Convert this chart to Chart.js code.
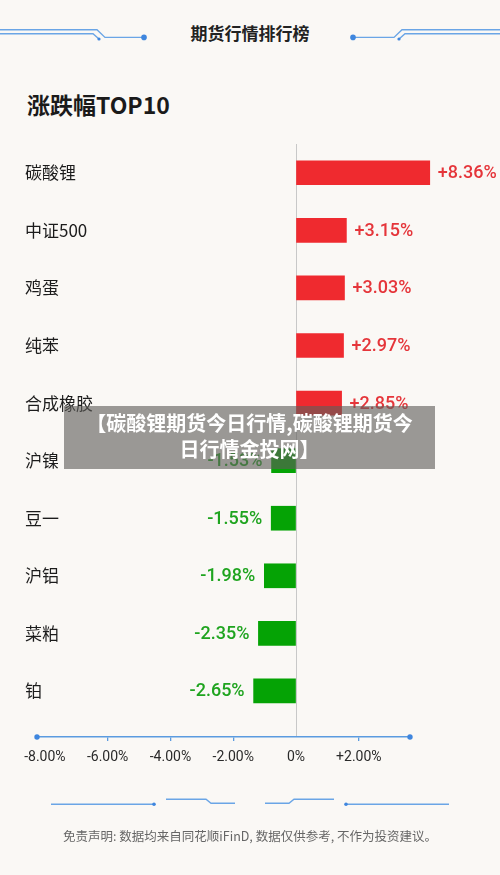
<!DOCTYPE html>
<html lang="zh-CN">
<head>
<meta charset="utf-8">
<title>期货行情排行榜</title>
<script src="https://cdn.jsdelivr.net/npm/chart.js@4.4.0/dist/chart.umd.min.js"></script>
<style>
  html, body { margin: 0; padding: 0; }
  body {
    width: 500px; height: 875px; position: relative; overflow: hidden;
    background: #faf8f5; font-family: "Noto Sans CJK SC", sans-serif;
  }
  svg.deco { position: absolute; left: 0; top: 0; }
  #box { position: absolute; left: 0; top: 0; width: 500px; height: 875px; }
  #title {
    position: absolute; top: 22px; left: 0; width: 500px; text-align: center;
    font-size: 17px; font-weight: bold; color: #222; line-height: 22px;
  }
  #sub {
    position: absolute; top: 90px; left: 27px; font-size: 23px; font-weight: bold;
    color: #1a1a1a; line-height: 28px;
  }
  #note {
    position: absolute; top: 826px; left: 0; width: 500px; text-align: center;
    font-size: 12.5px; color: #666; line-height: 20px;
  }
  #banner {
    position: absolute; left: 64px; top: 406px; width: 371px; height: 63px;
    background: rgba(95, 93, 90, 0.62); color: #fff; font-size: 20px; font-weight: bold;
    line-height: 26px; text-align: center; box-sizing: border-box; padding-top: 4px;
  }
</style>
</head>
<body>

<svg class="deco" width="500" height="875">
  <g fill="none" stroke="#6aa5e6" stroke-width="1.4">
    <!-- 顶部左 -->
    <polyline points="0,29.7 97,29.7 105,37.4 144,37.4"/>
    <polyline points="0,33.7 93,33.7 99,39"/>
    <!-- 顶部右 -->
    <polyline points="353,37.4 394,37.4 402,29.7 500,29.7"/>
    <polyline points="399,39 405,33.7 500,33.7"/>
    <!-- 底部 -->
    <polyline points="51,804.3 154,804.3"/>
    <polyline points="166,799.3 206,799.3 211,803.3 235,803.3"/>
    <polyline points="265,803.3 289,803.3 294,799.3 334,799.3"/>
    <polyline points="346,804.3 449,804.3"/>
  </g>
  <g fill="#3f86de">
    <circle cx="144" cy="37.4" r="2.8"/>
    <circle cx="353" cy="37.4" r="2.8"/>
    <circle cx="99" cy="39" r="1.6"/>
    <circle cx="399" cy="39" r="1.6"/>
    <circle cx="154" cy="804.3" r="1.8"/>
    <circle cx="346" cy="804.3" r="1.8"/>
  </g>
</svg>

<div id="title">期货行情排行榜</div>
<div id="sub">涨跌幅TOP10</div>

<div id="box"><canvas id="chart"></canvas></div>

<div id="banner">【碳酸锂期货今日行情,碳酸锂期货今<br>日行情金投网】</div>

<div id="note">免责声明: 数据均来自同花顺iFinD, 数据仅供参考, 不作为投资建议。</div>

<script>
// --- 数据 ---
const products = ["碳酸锂", "中证500", "鸡蛋", "纯苯", "合成橡胶", "沪镍", "豆一", "沪铝", "菜粕", "铂"];
const changes = [8.36, 3.15, 3.03, 2.97, 2.85, -1.53, -1.55, -1.98, -2.35, -2.65];
const axisTicks = [-8, -6, -4, -2, 0, 2];
const axisTickLabels = ["-8.00%", "-6.00%", "-4.00%", "-2.00%", "0%", "+2.00%"];

const RED = "#ef2a2f";
const GREEN = "#05a305";
const BLUE = "#5b9be0";

// 柱子右侧 / 左侧的数值
const valueLabels = {
  id: "valueLabels",
  afterDatasetsDraw(chart) {
    const ctx = chart.ctx;
    const meta = chart.getDatasetMeta(0);
    ctx.save();
    ctx.font = "500 18px Roboto";
    ctx.textBaseline = "middle";
    meta.data.forEach((bar, i) => {
      const v = changes[i];
      const up = v >= 0;
      ctx.fillStyle = up ? "#e5353a" : "#1fa41f";
      ctx.textAlign = up ? "left" : "right";
      const txt = (up ? "+" : "") + v.toFixed(2) + "%";
      ctx.fillText(txt, bar.x + (up ? 8 : -9), bar.y + 1);
    });
    ctx.restore();
  }
};

// 横轴两端的圆点
const axisDots = {
  id: "axisDots",
  afterDraw(chart) {
    const { ctx, chartArea } = chart;
    const y = chart.scales.x2.top;
    ctx.save();
    ctx.fillStyle = "#3f86de";
    [chartArea.left, chartArea.right].forEach(x => {
      ctx.beginPath();
      ctx.arc(x, y, 2.7, 0, Math.PI * 2);
      ctx.fill();
    });
    ctx.restore();
  }
};

Chart.defaults.font.family = "'Noto Sans CJK SC', sans-serif";

new Chart(document.querySelector("#chart"), {
  type: "bar",
  data: {
    datasets: [{
      data: changes.map((v, i) => ({ x: v, y: i })),
      backgroundColor: changes.map(v => (v >= 0 ? RED : GREEN)),
      borderWidth: 0,
      barThickness: 24,
      clip: false,
      xAxisID: "x",
      yAxisID: "y",
    }],
  },
  options: {
    indexAxis: "y",
    responsive: true,
    maintainAspectRatio: false,
    animation: false,
    devicePixelRatio: 1,
    layout: { padding: { left: 37, right: 90, top: 144, bottom: 101.2 } },
    plugins: { legend: { display: false }, tooltip: { enabled: false } },
    scales: {
      x: {
        type: "linear", position: "top", min: -16.19, max: 7.125,
        afterBuildTicks: s => { s.ticks = [{ value: 0 }]; },
        ticks: { display: false },
        grid: { color: "#c8c8c8", lineWidth: 1, drawTicks: false },
        border: { display: false },
      },
      x2: {
        type: "linear", position: "bottom", min: -8.25, max: 3.63,
        afterBuildTicks: s => { s.ticks = axisTicks.map(v => ({ value: v })); },
        ticks: {
          callback: (v, i) => axisTickLabels[i],
          color: "#2a2a2a", font: { size: 14, family: "Roboto" },
          padding: 8, autoSkip: false, maxRotation: 0,
        },
        grid: {
          drawOnChartArea: false, drawTicks: true, tickLength: 4, lineWidth: 1.3,
          color: c => (c.tick && (c.tick.value === 0 || c.tick.value === -8)) ? "rgba(0,0,0,0)" : BLUE,
        },
        border: { color: BLUE, width: 1.5 },
      },
      y: {
        type: "linear", reverse: true, offset: false, min: -0.5, max: 9.8,
        afterBuildTicks: s => { s.ticks = products.map((_, i) => ({ value: i })); },
        ticks: {
          mirror: true, crossAlign: "near", padding: -4,
          callback: v => products[v],
          color: "#1c1c1c", font: { size: 17 },
        },
        grid: { display: false, drawTicks: false },
        border: { display: false },
      },
    },
  },
  plugins: [valueLabels, axisDots],
});
</script>
</body>
</html>
